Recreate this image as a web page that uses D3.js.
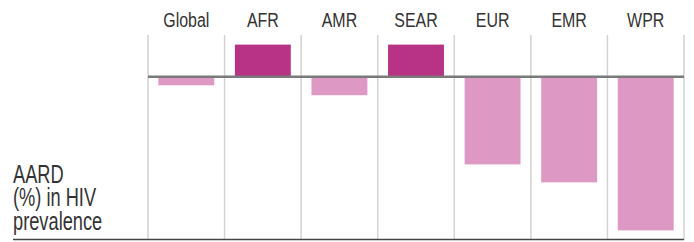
<!DOCTYPE html>
<html>
<head>
<meta charset="utf-8">
<script src="https://cdn.jsdelivr.net/npm/d3@7"></script>
<style>
  body { margin: 0; background: #fff; }
  text { font-family: "Liberation Sans", Arial, sans-serif; fill: #333; }
</style>
</head>
<body>
<div id="chart"></div>
<script>
// data
var regions = ["Global", "AFR", "AMR", "SEAR", "EUR", "EMR", "WPR"];
var aard = [-2.7, 10, -5.8, 10, -27.4, -33, -48];
var labelLines = ["AARD", "(%) in HIV", "prevalence"];

var svgWidth = 694;
var svgHeight = 242;

var svg = d3.select("#chart")
  .append("svg")
  .attr("width", svgWidth)
  .attr("height", svgHeight);

// scales
var x = d3.scaleBand()
  .domain(regions)
  .range([148, 684]);

var y = d3.scaleLinear()
  .domain([-51, 13])
  .range([240, 35]);

var barW = x.bandwidth() * 0.73;

// vertical grid lines
var edges = regions.map(d => x(d)).concat([x.range()[1]]);
svg.selectAll("line.grid")
  .data(edges)
  .enter()
  .append("line")
  .attr("class", "grid")
  .attr("x1", d => d)
  .attr("x2", d => d)
  .attr("y1", y.range()[1])
  .attr("y2", y.range()[0])
  .attr("stroke", "#d2d2d2")
  .attr("stroke-width", 1.5);

// bars
svg.selectAll("rect.bar")
  .data(regions)
  .enter()
  .append("rect")
  .attr("class", "bar")
  .attr("x", d => x(d) + (x.bandwidth() - barW) / 2)
  .attr("width", barW)
  .attr("y", (d, i) => y(Math.max(0, aard[i])))
  .attr("height", (d, i) => Math.abs(y(aard[i]) - y(0)))
  .attr("fill", (d, i) => aard[i] > 0 ? "#b83385" : "#de98c4");

// zero line
svg.append("line")
  .attr("x1", x.range()[0])
  .attr("x2", x.range()[1])
  .attr("y1", y(0))
  .attr("y2", y(0))
  .attr("stroke", "#7a7a7a")
  .attr("stroke-width", 2.5);

// bottom rule
svg.append("line")
  .attr("x1", 13)
  .attr("x2", x.range()[1])
  .attr("y1", 239.5)
  .attr("y2", 239.5)
  .attr("stroke", "#444")
  .attr("stroke-width", 1.5);

// category labels (condensed look via horizontal scale)
svg.selectAll("text.cat")
  .data(regions)
  .enter()
  .append("text")
  .attr("class", "cat")
  .attr("transform", d => `translate(${x(d) + x.bandwidth() / 2}, 26.7) scale(0.76, 1)`)
  .attr("text-anchor", "middle")
  .style("font-size", "21px")
  .text(d => d);

// left label
svg.selectAll("text.lab")
  .data(labelLines)
  .enter()
  .append("text")
  .attr("class", "lab")
  .attr("transform", (d, i) => `translate(13, ${182.5 + i * 23.5}) scale(0.73, 1)`)
  .style("font-size", "25px")
  .text(d => d);
</script>
</body>
</html>
